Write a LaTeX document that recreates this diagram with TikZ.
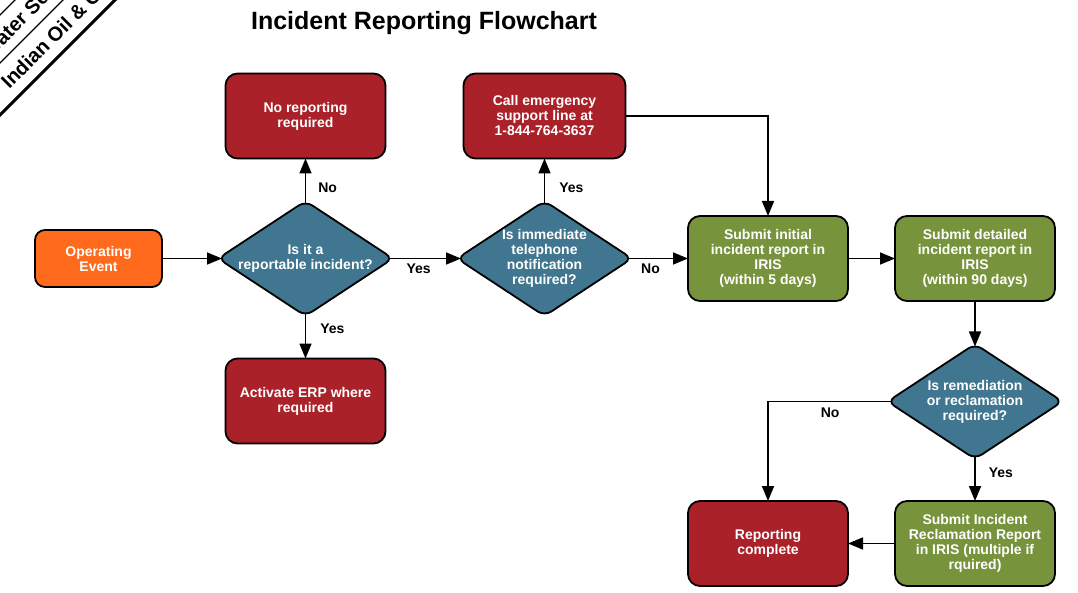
\documentclass[tikz,border=0pt]{standalone}
\usepackage{fontspec}
\setmainfont{Liberation Sans}
\usetikzlibrary{positioning, arrows.meta, shapes.geometric}
\definecolor{evtorange}{RGB}{255,106,28}
\definecolor{stopred}{RGB}{170,33,42}
\definecolor{askblue}{RGB}{64,118,143}
\definecolor{stepgreen}{RGB}{119,147,60}

\begin{document}
\begin{tikzpicture}[
  x=1pt, y=1pt,
  node distance=42.5pt and 56pt,
  every node/.style={font=\fontsize{14}{15}\selectfont\bfseries},
  flowbox/.style={draw, line width=1.8pt, rounded corners=12pt, align=center, outer sep=0pt,
                  text=white, minimum width=160pt, minimum height=85pt, inner sep=2pt},
  evtbox/.style={flowbox, fill=evtorange, minimum width=127pt, minimum height=57pt,
                 rounded corners=10pt},
  endbox/.style={flowbox, fill=stopred},
  procbox/.style={flowbox, fill=stepgreen},
  askbox/.style={draw, line width=1.8pt, diamond, aspect=1.52, rounded corners=8pt,
                 fill=askblue, minimum width=175pt, minimum height=115pt,
                 inner sep=0pt, outer sep=0pt},
  asktext/.style={text=white, align=center},
  arr/.style={->, >={Triangle[length=15pt, width=12pt]}, line width=1.6pt},
  lbl/.style={text=black, inner sep=2pt},
  banner/.style={font=\fontsize{20}{22}\selectfont\bfseries, inner sep=0pt}
]
\useasboundingbox (0,0) rectangle (1078,-593);

% corner banner
\begin{scope}
  \clip (0,0) rectangle (200,-200);
  \begin{scope}[rotate=45, transform shape]
    \draw[line width=1.3pt] (-150,-10.6) -- (150,-10.6);
    \draw[line width=1.3pt] (-150,-44.5) -- (150,-44.5);
    \draw[line width=3pt] (-150,-81.3) -- (150,-81.3);
    \node[banner, anchor=base west] (bantop) at (-49,-34.6) {Water Se};
    \node[banner, anchor=base west] (banlow) at (-57,-70) {Indian Oil \& Ga};
  \end{scope}
\end{scope}

\node[font=\fontsize{25}{28}\selectfont\bfseries] (title) at (424,-23)
  {Incident Reporting Flowchart};

% first question
\node[evtbox] (op) at (98.5,-258.5) {Operating\\Event};
\node[askbox, right=of op,
      label={[asktext]center:Is it a\\reportable incident?}] (q1) {};
\node[endbox, above=of q1] (norep) {No reporting\\required};
\node[endbox, below=of q1] (erp) {Activate ERP where\\required};

% telephone
\node[askbox, right=64pt of q1,
      label={[asktext]center:Is immediate\\telephone\\notification\\required?}] (q2) {};
\node[endbox, above=of q2, minimum width=162pt] (call)
  {Call emergency\\support line at\\1-844-764-3637};

% IRIS reports
\node[procbox, right=of q2] (init) {Submit initial\\incident report in\\IRIS\\(within 5 days)};
\node[procbox, right=47pt of init] (detail) {Submit detailed\\incident report in\\IRIS\\(within 90 days)};
\node[askbox, below=43pt of detail,
      label={[asktext]center:Is remediation\\or reclamation\\required?}] (q3) {};
\node[procbox, below=42pt of q3] (reclam)
  {Submit Incident\\Reclamation Report\\in IRIS (multiple if\\rquired)};
\node[endbox, left=47pt of reclam] (done) {Reporting\\complete};

% wires
\draw[arr, shorten >=-4pt] (op.east) -- (q1.west);
\draw[arr, shorten <=-4pt, shorten >=-4pt] (q1.east) --
  node[lbl, below=3pt, pos=.4] (yes1) {Yes} (q2.west);
\draw[arr, shorten <=-2.5pt] (q1.north) --
  node[lbl, right=10pt, pos=.3] (no1) {No} (norep.south);
\draw[arr, shorten <=-2.5pt] (q1.south) --
  node[lbl, right=12pt, pos=.3] (yes2) {Yes} (erp.north);
\draw[arr, shorten <=-2.5pt] (q2.north) --
  node[lbl, right=12pt, pos=.3] (yes3) {Yes} (call.south);
\draw[arr, shorten <=-4pt] (q2.east) --
  node[lbl, below=3pt, pos=.33] (no2) {No} (init.west);
\draw[arr] (call.east) -| (init.north);
\draw[arr] (init) -- (detail);
\draw[arr, shorten >=-2.5pt] (detail) -- (q3);
\draw[arr, shorten <=-2.5pt] (q3.south) --
  node[lbl, right=11pt, pos=.33] (yes4) {Yes} (reclam.north);
\draw[arr, shorten <=-4pt] (q3.west) -|
  node[lbl, below=4pt, pos=.24] (no3) {No} (done.north);
\draw[arr] (reclam) -- (done);
\end{tikzpicture}
\end{document}
